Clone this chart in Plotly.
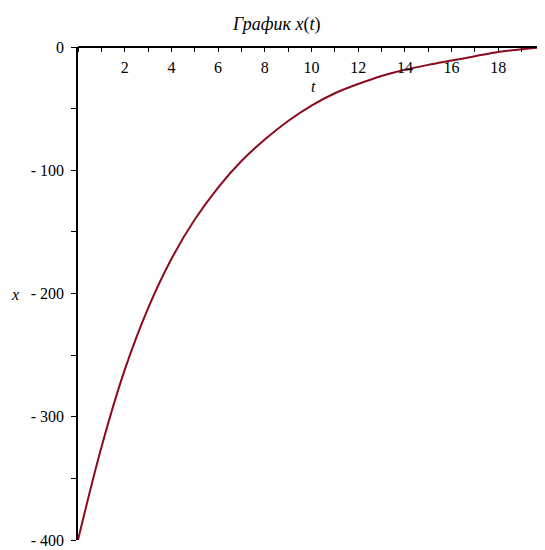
import plotly.graph_objects as go

# Data
t_vals = [0, 1, 2, 3, 4, 5, 6, 7, 8, 9, 10, 11, 12, 13, 14, 15, 16, 17, 18, 19, 20]
x_vals = [-400, -325, -262, -212, -172, -140, -114, -92.5, -75, -60, -47.5, -37.5, -30,
          -23.5, -18.5, -14.5, -11, -7.5, -4, -1.8, 0]

x_tick_vals = [2, 4, 6, 8, 10, 12, 14, 16, 18]
x_tick_text = ["2", "4", "6", "8", "10", "12", "14", "16", "18"]
y_tick_vals = [0, -100, -200, -300, -400]
y_tick_text = ["0", "- 100", "- 200", "- 300", "- 400"]

title_text = "<i>График</i> <i>x</i>(<i>t</i>)"
x_label = "<i>t</i>"
y_label = "<i>x</i>"

FONT = "Liberation Serif, Times New Roman, serif"

fig = go.Figure()
fig.add_trace(go.Scatter(
    x=t_vals, y=x_vals, mode="lines",
    line=dict(color="#8b0a1e", width=2, shape="spline", smoothing=1),
    hoverinfo="skip", showlegend=False,
))

fig.update_layout(
    width=537, height=542,
    margin=dict(l=70, r=0, t=39, b=10),
    paper_bgcolor="white", plot_bgcolor="white",
    font=dict(family=FONT, size=16, color="black"),
    xaxis=dict(
        range=[0, 20], anchor="free", position=1, side="bottom",
        automargin=False,
        showgrid=False, zeroline=False,
        showline=True, linecolor="black", linewidth=1.5,
        ticks="outside", ticklen=4, tickcolor="black", tickwidth=1,
        tickvals=x_tick_vals, ticktext=x_tick_text,
        ticklabelstandoff=2,
        minor=dict(dtick=1, tick0=0, ticks="outside", ticklen=4, tickcolor="black", showgrid=False),
        tickfont=dict(family=FONT, size=16, color="black"),
    ),
    yaxis=dict(
        range=[-400, 0], automargin=False,
        showgrid=False, zeroline=False,
        showline=True, linecolor="black", linewidth=1.5,
        ticks="outside", ticklen=5, tickcolor="black", tickwidth=1,
        tickvals=y_tick_vals, ticktext=y_tick_text,
        ticklabelstandoff=4, ticklabeloverflow="allow",
        minor=dict(dtick=50, tick0=0, ticks="outside", ticklen=5, tickcolor="black", showgrid=False),
        tickfont=dict(family=FONT, size=16, color="black"),
    ),
    annotations=[
        dict(x=0.424, y=1.045, xref="paper", yref="paper", text=title_text, showarrow=False,
             xanchor="center", yanchor="middle",
             font=dict(family=FONT, size=18, color="black")),
        dict(x=0.504, y=0.919, xref="paper", yref="paper", text=x_label, showarrow=False,
             xanchor="center", yanchor="middle",
             font=dict(family=FONT, size=16, color="black")),
        dict(x=-0.135, y=0.498, xref="paper", yref="paper", text=y_label, showarrow=False,
             xanchor="center", yanchor="middle",
             font=dict(family=FONT, size=16, color="black")),
    ],
)

fig.write_html("out.html")
